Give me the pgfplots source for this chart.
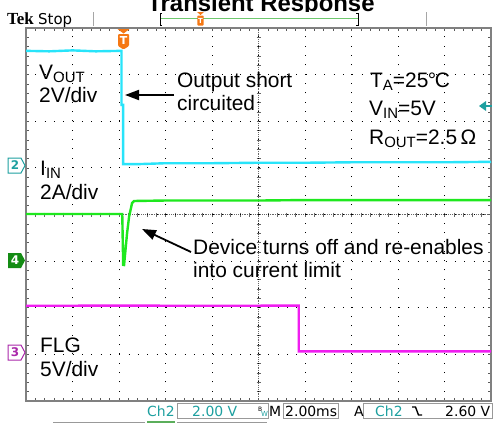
\documentclass[border=0pt]{standalone}
\usepackage{pgfplots}
\pgfplotsset{compat=1.18}
\usetikzlibrary{arrows.meta}
\usepackage{fontspec}
\setmainfont{Liberation Sans}
\newfontfamily\dejavu{DejaVu Sans}
\newfontfamily\tekserif{Liberation Serif}

\definecolor{vcyan}{RGB}{40,228,250}
\definecolor{igreen}{RGB}{30,232,30}
\definecolor{fmag}{RGB}{240,30,240}
\definecolor{chteal}{RGB}{30,160,160}
\definecolor{chgreen}{RGB}{20,140,20}
\definecolor{chpurple}{RGB}{170,40,170}
\definecolor{tekorange}{RGB}{245,120,20}
\definecolor{bargreen}{RGB}{110,200,110}

\newcommand\lbl{\fontsize{21}{23}\selectfont}
\newcommand\sub[1]{\raisebox{-3bp}{\fontsize{15}{15}\selectfont #1}}

% traces, in screen divisions (x: 0..10, y: -4..4)
\pgfplotstableread{
x y
0 3.51
0.5 3.50
1.0 3.52
1.5 3.50
2.054 3.51
2.054 2.35
2.088 2.35
2.088 1.08
2.4 1.08
3 1.10
4 1.10
5 1.11
6 1.11
7 1.12
8 1.12
9 1.12
10 1.13
}\vout
\pgfplotstableread{
x y
0 0.01
1 0.01
2.07 0.01
2.09 -1.08
2.109 -1.083
2.174 -0.397
2.217 -0.047
2.281 0.247
2.324 0.29
3 0.30
4 0.30
5 0.30
6 0.31
7 0.31
8 0.31
9 0.31
10 0.31
}\iin
\pgfplotstableread{
x y
0 -1.957
2 -1.955
4 -1.957
5.865 -1.955
5.865 -2.936
7 -2.936
8.5 -2.935
10 -2.936
}\flg

\begin{document}
\begin{tikzpicture}
\useasboundingbox (0,0) rectangle (493bp,-423bp);
\clip (0,0) rectangle (493bp,-423bp);
\begin{scope}[x=1bp,y=-1bp]
  \node[anchor=base, inner sep=0, font=\fontsize{24}{24}\selectfont\bfseries] at (261,11.5) {Transient Response};
  \fill[white] (0,12.3) rectangle (493,423);
  % centre cross of the graticule
  \draw[black!60, line width=0.6bp, dash pattern=on 0.6bp off 1.26bp] (258.5,28) -- (258.5,401);
  \draw[black!60, line width=0.6bp, dash pattern=on 0.6bp off 1.26bp] (26,214.5) -- (491,214.5);
  \foreach \k in {1,...,39} \draw[black!60, line width=0.6bp] (256.5,28+\k*9.325) -- ++(4,0);
  \foreach \k in {1,...,49} \draw[black!60, line width=0.6bp] (26+\k*9.3,212.5) -- ++(0,4);
\end{scope}
\begin{axis}[
  at={(26bp,-401bp)}, anchor=south west,
  width=465bp, height=373bp, scale only axis,
  xmin=0, xmax=10, ymin=-4, ymax=4,
  xtick={0,...,10}, ytick={-4,...,4},
  minor x tick num=4, minor y tick num=4,
  xticklabels={}, yticklabels={},
  tick align=inside, xtick pos=both, ytick pos=both,
  major tick length=3bp, minor tick length=3bp,
  tick style={black!65, line width=0.6bp},
  grid=major,
  major grid style={black, line width=1bp, dash pattern=on 1bp off 8.325bp},
  axis line style={black!50, line width=2bp},
]
\addplot[vcyan, line width=2.4bp] table {\vout};
\addplot[igreen, line width=2.4bp] table {\iin};
\addplot[fmag, line width=2.4bp] table {\flg};
\end{axis}
\begin{scope}[x=1bp,y=-1bp]
  % top bar
  \node[anchor=base west, inner sep=0, font=\tekserif\bfseries\fontsize{17}{17}\selectfont] at (7,24) {Tek};
  \node[anchor=base west, inner sep=0, font=\dejavu\fontsize{15}{15}\selectfont] at (38,24) {Stop};
  \draw[black!35, line width=1bp] (93,12) -- (93,26) (426,12) -- (426,26);
  \draw[bargreen, line width=1.2bp] (160,18.5) -- (358,18.5);
  \draw[black, line width=0.8bp] (162,13) -- (160,13) -- (160,25) -- (162,25);
  \draw[black, line width=0.8bp] (356,13) -- (358,13) -- (358,25) -- (356,25);
  \fill[tekorange] (197,12) -- (204,12) -- (200.5,15) -- cycle;
  \fill[tekorange, rounded corners=0.8bp] (197.3,15.5) rectangle (203.7,25.5);
  \node[text=white, font=\dejavu\bfseries\fontsize{7}{7}\selectfont, inner sep=0] at (200.5,20.5) {T};
  % trigger position marker
  \fill[tekorange] (117.5,29) -- (129.5,29) -- (123.5,33.5) -- cycle;
  \fill[tekorange, rounded corners=1bp] (118,34) -- (129,34) -- (129,46) -- (123.5,49.5) -- (118,46) -- cycle;
  \node[text=white, font=\dejavu\bfseries\fontsize{11}{11}\selectfont, inner sep=0] at (123.5,40.5) {T};
  % trigger level marker
  \fill[chteal] (479,106) -- (486,101) -- (486,111) -- cycle;
  \draw[chteal, line width=2.2bp] (485,106) -- (492,106);
  % channel markers
  \draw[chteal, line width=1bp, fill=white] (8,158) -- (21,158) -- (25,165.5) -- (21,173) -- (8,173) -- cycle;
  \node[text=chteal, font=\dejavu\bfseries\fontsize{12}{12}\selectfont, inner sep=0] at (15,165.5) {2};
  \fill[chgreen] (8,253) -- (21,253) -- (25,260.5) -- (21,268) -- (8,268) -- cycle;
  \node[text=white, font=\dejavu\bfseries\fontsize{12}{12}\selectfont, inner sep=0] at (15,260.5) {4};
  \draw[chpurple, line width=1bp, fill=white] (8,345) -- (21,345) -- (25,352.5) -- (21,360) -- (8,360) -- cycle;
  \node[text=chpurple, font=\dejavu\bfseries\fontsize{12}{12}\selectfont, inner sep=0] at (15,352.5) {3};
  % annotations
  \node[anchor=base west, inner sep=0, font=\lbl] at (39,79) {V\sub{OUT}};
  \node[anchor=base west, inner sep=0, font=\lbl] at (39,102) {2V/div};
  \node[anchor=base west, inner sep=0, font=\lbl] at (177,87) {Output short};
  \node[anchor=base west, inner sep=0, font=\lbl] at (177,110) {circuited};
  \draw[line width=1.8bp, -{Triangle[length=14bp,width=10bp]}] (174,95) -- (125,95);
  \node[anchor=base west, inner sep=0, font=\lbl] at (370,87) {T\sub{A}=25\kern-0.5bp°\kern-1.5bp C};
  \node[anchor=base west, inner sep=0, font=\lbl] at (369,115.5) {V\sub{IN}=5V};
  \node[anchor=base west, inner sep=0, font=\lbl] at (369,144) {R\sub{OUT}=2.5\,Ω};
  \node[anchor=base west, inner sep=0, font=\lbl] at (40,175) {I\sub{IN}};
  \node[anchor=base west, inner sep=0, font=\lbl] at (40,199) {2A/div};
  \node[anchor=base west, inner sep=0, font=\lbl] at (193,254) {Device turns off and re-enables};
  \node[anchor=base west, inner sep=0, font=\lbl] at (193,277) {into current limit};
  \draw[line width=1.8bp, -{Triangle[length=14bp,width=10bp]}] (191,252) -- (142,229);
  \node[anchor=base west, inner sep=0, font=\lbl] at (40,352) {FLG};
  \node[anchor=base west, inner sep=0, font=\lbl] at (40,376) {5V/div};
  % bottom bar
  \draw[black!40, line width=1bp] (177,403) rectangle (268,418);
  \draw[black!40, line width=1bp] (283,403) rectangle (338,418);
  \draw[black!40, line width=1bp] (363,403) rectangle (492,418);
  \begin{scope}[every node/.style={anchor=base west, inner sep=0, font=\dejavu\fontsize{14}{14}\selectfont}]
    \node[text=chteal] at (147,416) {Ch2};
    \node[text=chteal] at (192,416) {2.00 V};
    \node at (269,416) {M};
    \node at (285,416) {2.00ms};
    \node at (354,416) {A};
    \node[text=chteal] at (375,416) {Ch2};
    \node at (445,416) {2.60 V};
  \end{scope}
  \node[anchor=base west, inner sep=0, font=\dejavu\fontsize{6}{6}\selectfont] at (258,411) {B};
  \node[anchor=base west, inner sep=0, text=chteal, font=\dejavu\fontsize{7}{7}\selectfont] at (261,416) {W};
  \draw[black, line width=1.4bp] (412,407) -- (415.5,407) -- (418.5,415) -- (422,415);
  \draw[black!40, line width=1bp] (53,422) -- (145,422) (177,422) -- (267,422);
  \draw[chgreen!70, line width=1.6bp] (147,422) -- (175,422);
\end{scope}
\end{tikzpicture}
\end{document}
